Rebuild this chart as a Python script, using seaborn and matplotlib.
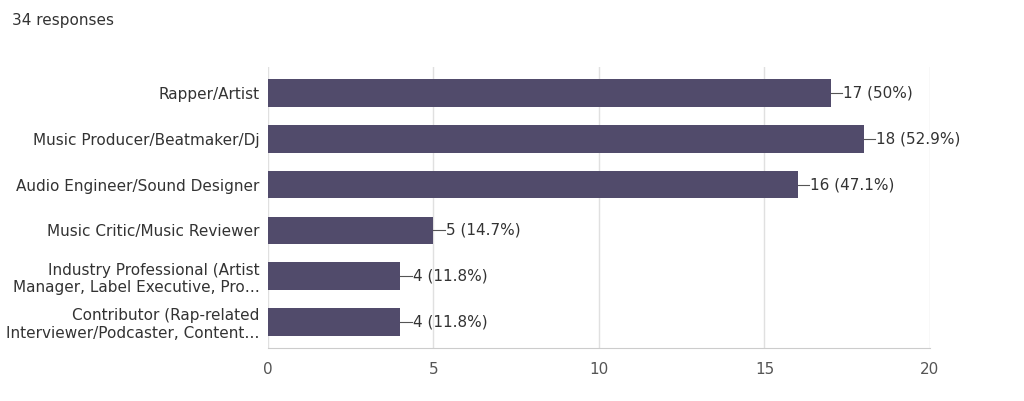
import matplotlib
matplotlib.use("Agg")
import matplotlib.pyplot as plt
import seaborn as sns
import pandas as pd

categories = ["Rapper/Artist", "Music Producer/Beatmaker/Dj", "Audio Engineer/Sound Designer",
              "Music Critic/Music Reviewer",
              "Industry Professional (Artist\nManager, Label Executive, Pro\u2026",
              "Contributor (Rap-related\nInterviewer/Podcaster, Content\u2026"]
counts = [17, 18, 16, 5, 4, 4]
labels = ["17 (50%)", "18 (52.9%)", "16 (47.1%)", "5 (14.7%)", "4 (11.8%)", "4 (11.8%)"]
ticks = [0, 5, 10, 15, 20]

df = pd.DataFrame({"cat": categories, "n": counts})
fig = plt.figure(figsize=(10.24, 4.01), dpi=100)
ax = fig.add_axes([0.2617, 0.131, 0.6465, 0.703])
sns.barplot(data=df, y="cat", x="n", color="#514b6b", saturation=1, width=0.6, ax=ax)
ax.set_xlim(0, 20)
ax.set_xticks(ticks)
ax.grid(axis="x", color="#e0e0e0", linewidth=1)
ax.set_axisbelow(True)
for s in ["top", "right", "left"]:
    ax.spines[s].set_visible(False)
ax.spines["bottom"].set_color("#cccccc")
ax.tick_params(axis="both", length=0, labelsize=11, colors="#333333", pad=6)
ax.tick_params(axis="x", pad=10, colors="#555555")
ax.set_xlabel(""); ax.set_ylabel("")
for i, (v, t) in enumerate(zip(counts, labels)):
    ax.plot([v, v + 0.35], [i, i], color="#555555", linewidth=0.8)
    ax.text(v + 0.38, i, t, va="center", ha="left", fontsize=11, color="#333333")
fig.text(12/1024, 1 - 20/401, "34 responses", fontsize=11, color="#333333", va="center")
fig.savefig("out.png", dpi=100)
